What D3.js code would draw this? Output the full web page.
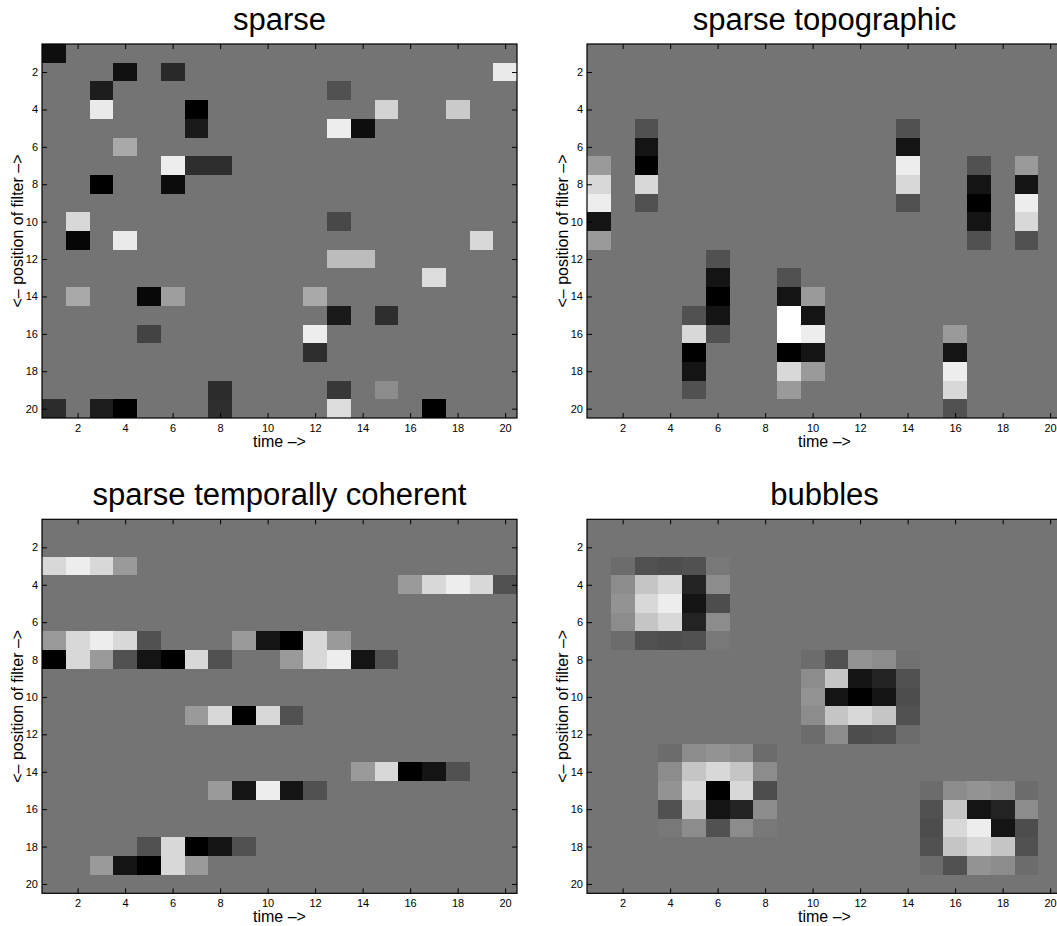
<!DOCTYPE html>
<html>
<head>
<meta charset="utf-8">
<script src="https://cdn.jsdelivr.net/npm/d3@7"></script>
<style>
  body { margin: 0; background: #fff; }
  svg { display: block; font-family: "Liberation Sans", Arial, Helvetica, sans-serif; }
</style>
</head>
<body>
<div id="chart"></div>
<script>
// each cell is [row, col, value]; value -1 = black, 0 = background gray, 1 = white
const sparse = [
  [1, 1, -0.88],
  [2, 4, -0.85], [2, 6, -0.65], [2, 20, 0.85],
  [3, 3, -0.75], [3, 13, -0.3],
  [4, 3, 0.85], [4, 7, -1], [4, 15, 0.68], [4, 18, 0.62],
  [5, 7, -0.78], [5, 13, 0.87], [5, 14, -0.88],
  [6, 4, 0.38],
  [7, 6, 0.87], [7, 7, -0.6], [7, 8, -0.6],
  [8, 3, -1], [8, 6, -0.9],
  [10, 2, 0.72], [10, 13, -0.38],
  [11, 2, -0.95], [11, 4, 0.85], [11, 19, 0.72],
  [12, 13, 0.52], [12, 14, 0.52],
  [13, 17, 0.75],
  [14, 2, 0.38], [14, 5, -0.93], [14, 6, 0.3], [14, 12, 0.38],
  [15, 13, -0.78], [15, 15, -0.6],
  [16, 5, -0.42], [16, 12, 0.87],
  [17, 12, -0.6],
  [19, 8, -0.62], [19, 13, -0.52], [19, 15, 0.17],
  [20, 1, -0.62], [20, 3, -0.75], [20, 4, -1], [20, 8, -0.6], [20, 13, 0.75], [20, 17, -1]
];

const topographic = [
  [7, 1, 0.27], [8, 1, 0.72], [9, 1, 0.87], [10, 1, -0.83], [11, 1, 0.27],
  [5, 3, -0.3], [6, 3, -0.83], [7, 3, -1], [8, 3, 0.72], [9, 3, -0.3],
  [5, 14, -0.3], [6, 14, -0.83], [7, 14, 0.87], [8, 14, 0.72], [9, 14, -0.3],
  [7, 17, -0.3], [8, 17, -0.83], [9, 17, -1], [10, 17, -0.83], [11, 17, -0.3],
  [7, 19, 0.27], [8, 19, -0.83], [9, 19, 0.87], [10, 19, 0.72], [11, 19, -0.3],
  [12, 6, -0.3], [13, 6, -0.83], [14, 6, -1], [15, 6, -0.83], [16, 6, -0.3],
  [15, 5, -0.3], [16, 5, 0.72], [17, 5, -1], [18, 5, -0.83], [19, 5, -0.3],
  [13, 9, -0.3], [14, 9, -0.83], [15, 9, 1], [16, 9, 1], [17, 9, -1], [18, 9, 0.72], [19, 9, 0.27],
  [14, 10, 0.27], [15, 10, -0.83], [16, 10, 0.87], [17, 10, -0.83], [18, 10, 0.27],
  [16, 16, 0.27], [17, 16, -0.83], [18, 16, 0.87], [19, 16, 0.72], [20, 16, -0.3]
];

const coherent = [
  [3, 1, 0.72], [3, 2, 0.87], [3, 3, 0.72], [3, 4, 0.27],
  [4, 16, 0.27], [4, 17, 0.72], [4, 18, 0.87], [4, 19, 0.72], [4, 20, -0.3],
  [7, 1, 0.27], [7, 2, 0.72], [7, 3, 0.87], [7, 4, 0.72], [7, 5, -0.3],
  [7, 9, 0.27], [7, 10, -0.83], [7, 11, -1], [7, 12, 0.72], [7, 13, 0.27],
  [8, 1, -1], [8, 2, 0.72], [8, 3, 0.27], [8, 4, -0.3], [8, 5, -0.83], [8, 6, -1], [8, 7, 0.72], [8, 8, -0.3],
  [8, 11, 0.27], [8, 12, 0.72], [8, 13, 0.87], [8, 14, -0.83], [8, 15, -0.3],
  [11, 7, 0.27], [11, 8, 0.72], [11, 9, -1], [11, 10, 0.72], [11, 11, -0.3],
  [14, 14, 0.27], [14, 15, 0.72], [14, 16, -1], [14, 17, -0.83], [14, 18, -0.3],
  [15, 8, 0.27], [15, 9, -0.83], [15, 10, 0.87], [15, 11, -0.83], [15, 12, -0.3],
  [18, 5, -0.3], [18, 6, 0.72], [18, 7, -1], [18, 8, -0.83], [18, 9, -0.3],
  [19, 3, 0.27], [19, 4, -0.83], [19, 5, -1], [19, 6, 0.72], [19, 7, 0.27]
];

const bubbles = [
  [3, 2, -0.07], [3, 3, -0.3], [3, 4, -0.34], [3, 5, -0.3], [3, 6, 0.03],
  [4, 2, 0.17], [4, 3, 0.58], [4, 4, 0.72], [4, 5, -0.7], [4, 6, 0.17],
  [5, 2, 0.22], [5, 3, 0.72], [5, 4, 0.87], [5, 5, -0.83], [5, 6, -0.34],
  [6, 2, 0.17], [6, 3, 0.58], [6, 4, 0.72], [6, 5, -0.7], [6, 6, 0.17],
  [7, 2, -0.07], [7, 3, -0.3], [7, 4, -0.34], [7, 5, -0.3], [7, 6, 0.03],

  [8, 10, -0.07], [8, 11, -0.3], [8, 12, 0.22], [8, 13, 0.17], [8, 14, -0.03],
  [9, 10, 0.17], [9, 11, 0.58], [9, 12, -0.83], [9, 13, -0.7], [9, 14, -0.3],
  [10, 10, 0.22], [10, 11, -0.83], [10, 12, -1], [10, 13, -0.83], [10, 14, -0.34],
  [11, 10, 0.17], [11, 11, 0.58], [11, 12, 0.72], [11, 13, 0.58], [11, 14, -0.3],
  [12, 10, -0.07], [12, 11, 0.17], [12, 12, -0.34], [12, 13, -0.3], [12, 14, -0.07],

  [13, 4, -0.07], [13, 5, 0.17], [13, 6, 0.22], [13, 7, 0.17], [13, 8, -0.07],
  [14, 4, 0.17], [14, 5, 0.58], [14, 6, 0.72], [14, 7, 0.58], [14, 8, 0.17],
  [15, 4, 0.22], [15, 5, 0.72], [15, 6, -1], [15, 7, 0.72], [15, 8, -0.34],
  [16, 4, -0.3], [16, 5, 0.58], [16, 6, -0.83], [16, 7, -0.7], [16, 8, 0.17],
  [17, 4, 0.03], [17, 5, 0.17], [17, 6, -0.3], [17, 7, 0.17], [17, 8, 0.03],

  [15, 15, -0.07], [15, 16, 0.17], [15, 17, 0.22], [15, 18, 0.17], [15, 19, -0.07],
  [16, 15, -0.3], [16, 16, 0.58], [16, 17, -0.83], [16, 18, -0.7], [16, 19, 0.17],
  [17, 15, -0.34], [17, 16, 0.72], [17, 17, 0.87], [17, 18, -0.83], [17, 19, -0.34],
  [18, 15, -0.3], [18, 16, 0.58], [18, 17, 0.72], [18, 18, 0.58], [18, 19, -0.3],
  [19, 15, -0.07], [19, 16, -0.3], [19, 17, 0.22], [19, 18, 0.17], [19, 19, -0.07]
];

const titles = ["sparse", "sparse topographic", "sparse temporally coherent", "bubbles"];
const tickValues = [2, 4, 6, 8, 10, 12, 14, 16, 18, 20];
const xLabel = "time \u2013>";
const yLabel = "<\u2013 position of filter \u2013>";

const width = 1057;
const height = 926;
const W = 475, H = 374;
const lefts = [42, 587];
const tops = [44, 519.3];

const gray = d3.scaleLinear()
    .domain([-1, 0, 1])
    .range(["#000000", "#747474", "#ffffff"]);

const svg = d3.select("#chart").append("svg")
    .attr("width", width)
    .attr("height", height);

const panels = [sparse, topographic, coherent, bubbles];

panels.forEach((cells, i) => {
    const g = svg.append("g")
        .attr("transform", `translate(${lefts[i % 2]}, ${tops[Math.floor(i / 2)]})`);
    drawPanel(g, cells, titles[i]);
});

function drawPanel(g, cells, title) {
    const x = d3.scaleLinear().domain([0.5, 20.5]).range([0, W]);
    const y = d3.scaleLinear().domain([0.5, 20.5]).range([0, H]);

    g.append("rect")
        .attr("width", W)
        .attr("height", H)
        .attr("fill", gray(0));

    g.selectAll(".cell")
        .data(cells)
        .enter().append("rect")
        .attr("class", "cell")
        .attr("shape-rendering", "crispEdges")
        .attr("x", d => x(d[1] - 0.5))
        .attr("y", d => y(d[0] - 0.5))
        .attr("width", d => x(d[1] + 0.5) - x(d[1] - 0.5))
        .attr("height", d => y(d[0] + 0.5) - y(d[0] - 0.5))
        .attr("fill", d => gray(d[2]));

    // matlab style: ticks point inward on all four sides
    const bottom = g.append("g")
        .attr("transform", `translate(0, ${H})`)
        .call(d3.axisBottom(x).tickValues(tickValues).tickSizeInner(-5).tickSizeOuter(0).tickPadding(6));
    const left = g.append("g")
        .call(d3.axisLeft(y).tickValues(tickValues).tickSizeInner(-5).tickSizeOuter(0).tickPadding(4));
    g.append("g")
        .call(d3.axisTop(x).tickValues(tickValues).tickSizeInner(-5).tickSizeOuter(0).tickFormat(""));
    g.append("g")
        .attr("transform", `translate(${W}, 0)`)
        .call(d3.axisRight(y).tickValues(tickValues).tickSizeInner(-5).tickSizeOuter(0).tickFormat(""));

    g.selectAll(".domain").remove();
    g.selectAll(".tick line").attr("stroke", "#000");
    [bottom, left].forEach(a => a
        .attr("font-family", null)
        .attr("font-size", 11)
        .selectAll("text").attr("fill", "#000"));

    g.append("rect")
        .attr("width", W)
        .attr("height", H)
        .attr("fill", "none")
        .attr("stroke", "#000")
        .attr("stroke-width", 1.2);

    g.append("text")
        .attr("x", W / 2)
        .attr("y", -14.5)
        .attr("text-anchor", "middle")
        .style("font-size", "31px")
        .text(title);

    g.append("text")
        .attr("x", W / 2)
        .attr("y", H + 28.5)
        .attr("text-anchor", "middle")
        .style("font-size", "16px")
        .text(xLabel);

    g.append("text")
        .attr("transform", `translate(-19, ${H / 2}) rotate(-90)`)
        .attr("text-anchor", "middle")
        .style("font-size", "16px")
        .text(yLabel);
}
</script>
</body>
</html>
